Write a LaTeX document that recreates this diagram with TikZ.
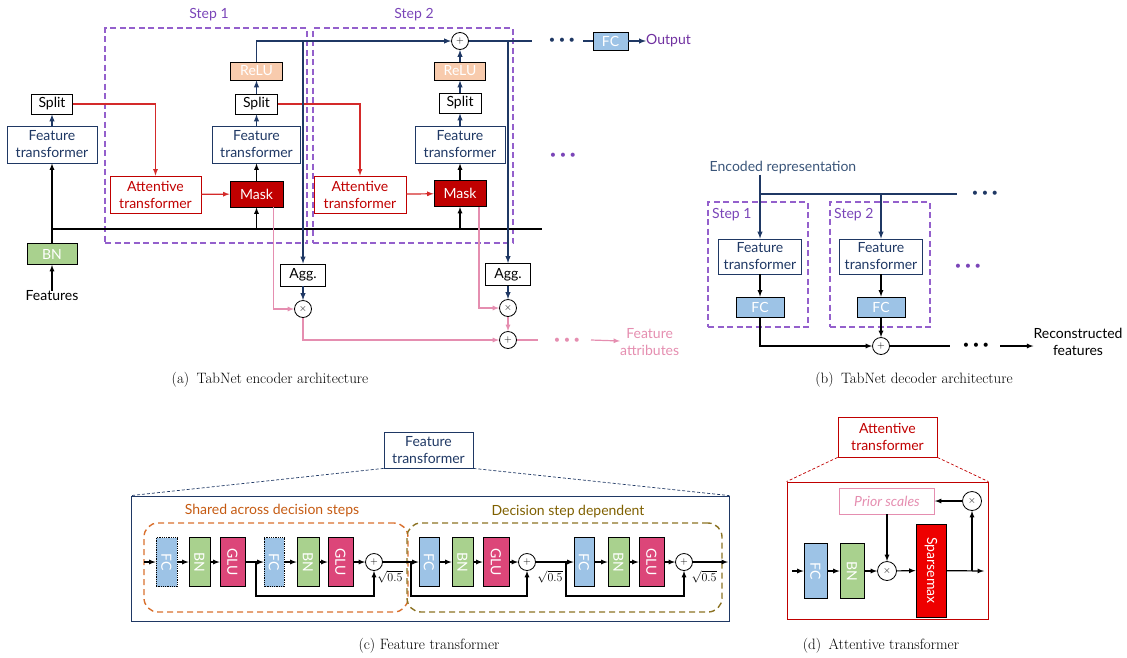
\documentclass[tikz,border=0pt]{standalone}
\usepackage{fontspec}
\newfontfamily\lato{Lato}
\usepackage{amsmath}
\usetikzlibrary{arrows,positioning}
\tikzset{>=latex}

\definecolor{navy}{HTML}{1F3864}
\definecolor{atred}{HTML}{C00000}
\definecolor{lnred}{HTML}{D42A2A}
\definecolor{attpink}{HTML}{E58EB0}
\definecolor{steppurple}{HTML}{9460CC}
\definecolor{steplabel}{HTML}{7A45B8}
\definecolor{relufill}{HTML}{F8CBAD}
\definecolor{bnfill}{HTML}{A9D18E}
\definecolor{fcfill}{HTML}{9DC3E6}
\definecolor{glufill}{HTML}{DC4679}
\definecolor{spmfill}{HTML}{EE0000}
\definecolor{shared}{HTML}{D9702E}
\definecolor{sharedtxt}{HTML}{C55A11}
\definecolor{depend}{HTML}{8C7324}
\definecolor{dependtxt}{HTML}{7F6000}
\definecolor{encblue}{HTML}{3A5579}
\definecolor{outpurple}{HTML}{7030A0}

\newcommand{\tdots}{{\fontsize{11}{11}\selectfont\textbullet\kern3.5pt\textbullet\kern3.5pt\textbullet}}

\begin{document}
\begin{tikzpicture}[x=1pt,y=-1pt]
  \tikzset{>=latex}
  \tikzstyle{every node}=[font=\lato\fontsize{14}{17}\selectfont, inner sep=0pt, align=center]
  \tikzstyle{box}=[draw=black, line width=0.8pt, rectangle]
  \tikzstyle{ftbox}=[box, draw=navy, text=navy]
  \tikzstyle{atbox}=[box, draw=atred, text=atred]
  \tikzstyle{maskbox}=[box, fill=atred, text=white]
  \tikzstyle{relubox}=[box, fill=relufill, text=white]
  \tikzstyle{bnbox}=[box, fill=bnfill, text=white]
  \tikzstyle{fcbox}=[box, fill=fcfill, text=white]
  \tikzstyle{glubox}=[box, fill=glufill, text=white]
  \tikzstyle{opc}=[circle, draw=black, line width=0.8pt, fill=white, minimum size=17, font=\fontsize{10}{10}\selectfont]
  \tikzstyle{stepbox}=[draw=steppurple, line width=1.2pt, dash pattern=on 6pt off 3.5pt]
  \tikzstyle{steptxt}=[text=steplabel]
  \tikzstyle{blk}=[black, line width=1.2pt]
  \tikzstyle{nv}=[navy, line width=1.4pt]
  \tikzstyle{rd}=[lnred, line width=1.2pt]
  \tikzstyle{pk}=[attpink, line width=1.2pt]
  \tikzstyle{zoomnv}=[navy, line width=0.7pt, dash pattern=on 3pt off 2pt]
  \tikzstyle{zoomrd}=[atred, line width=0.7pt, dash pattern=on 3pt off 2pt]
  \tikzstyle{sharedbox}=[draw=shared, line width=1.4pt, dash pattern=on 6pt off 4pt, rounded corners=14]
  \tikzstyle{dependbox}=[draw=depend, line width=1.4pt, dash pattern=on 6pt off 4pt, rounded corners=14]
  \tikzstyle{sqtxt}=[font=\fontsize{12}{14}\selectfont]
  \tikzstyle{captxt}=[font=\rmfamily\fontsize{15}{17}\selectfont]
  \useasboundingbox (0,0) rectangle (1127,657);

  % (a) encoder
  \node[stepbox, minimum width=202, minimum height=215] (st1) at (206,135.5) {};
  \node[stepbox, minimum width=200, minimum height=215] (st2) at (413,135.5) {};
  \node[steptxt] (st1l) at (209,15) {Step 1};
  \node[steptxt] (st2l) at (414,15) {Step 2};

  \node (feat) at (52,296) {Features};
  \node[bnbox, minimum width=50, minimum height=21] (bn) at (52,254) {BN};
  \node[ftbox, minimum width=90, minimum height=37] (ft0) at (52,144.5) {Feature\\transformer};
  \node[box, minimum width=41, minimum height=20] (sp0) at (52,104) {Split};

  \node[atbox, minimum width=91, minimum height=37] (at1) at (155.5,194.5) {Attentive\\transformer};
  \node[maskbox, minimum width=53, minimum height=26] (mk1) at (256.5,194) {Mask};
  \node[ftbox, minimum width=88, minimum height=37] (ft1) at (256.5,144.5) {Feature\\transformer};
  \node[box, minimum width=42, minimum height=20] (sp1) at (256.5,104) {Split};
  \node[relubox, minimum width=52, minimum height=18] (re1) at (256.5,71) {ReLU};

  \node[atbox, minimum width=92, minimum height=37] (at2) at (360,194.5) {Attentive\\transformer};
  \node[maskbox, minimum width=52, minimum height=26] (mk2) at (460,193.5) {Mask};
  \node[ftbox, minimum width=90, minimum height=37] (ft2) at (460,144.5) {Feature\\transformer};
  \node[box, minimum width=42, minimum height=20] (sp2) at (460,103) {Split};
  \node[relubox, minimum width=51, minimum height=18] (re2) at (460,71) {ReLU};
  \node[opc] (add1) at (460,41) {$+$};

  \node[box, minimum width=45, minimum height=22] (agg1) at (303,275) {Agg.};
  \node[box, minimum width=45, minimum height=22] (agg2) at (508,274.5) {Agg.};
  \node[opc] (mul1) at (303,309) {$\times$};
  \node[opc] (mul2) at (508,308) {$\times$};
  \node[opc] (add2) at (508,340) {$+$};

  \node[text=navy] (dots1) at (562,41) {\tdots};
  \node[fcbox, minimum width=35, minimum height=18] (fco) at (610.5,41) {FC};
  \node[anchor=west, text=outpurple] (out) at (646,41) {Output};
  \node[text=steplabel] (dots2) at (563,156) {\tdots};
  \node[text=attpink] (dots3) at (567,341) {\tdots};
  \node[anchor=west, text=attpink] (fa) at (620,342) {Feature\\attributes};

  \coordinate (busL) at (52,229);
  \coordinate (busR) at (542,229);
  \coordinate (nvend) at (532,41);
  \coordinate (fcin) at (583,41);
  \coordinate (pkend) at (538,340);
  \coordinate (pkarr) at (591,340);

  \draw[blk] (busL) -- (busR);
  \draw[blk,->] (feat) -- (bn);
  \draw[blk,->] (bn) -- (ft0);
  \draw[nv,->] (ft0) -- (sp0);
  \draw[rd,->] (sp0) -| (at1);
  \draw[rd,->] (at1) -- (mk1);
  \draw[blk,->] (mk1.south |- busL) -- (mk1);
  \draw[blk,->] (mk1) -- (ft1);
  \draw[nv,->] (ft1) -- (sp1);
  \draw[nv,->] (sp1) -- (re1);
  \draw[rd,->] (sp1) -| (at2);
  \draw[rd,->] (at2) -- (mk2);
  \draw[blk,->] (mk2.south |- busL) -- (mk2);
  \draw[blk,->] (mk2) -- (ft2);
  \draw[nv,->] (ft2) -- (sp2);
  \draw[nv,->] (sp2) -- (re2);
  \draw[nv,->] (re2) -- (add1);
  \draw[nv,->] (re1) |- (add1);
  \draw[nv] (add1) -- (nvend);
  \draw[nv,->] (agg1.north |- add1) -- (agg1);
  \draw[nv,->] (agg2.north |- add1) -- (agg2);
  \draw[nv,->] (agg1) -- (mul1);
  \draw[nv,->] (agg2) -- (mul2);
  \draw[nv] (fcin) -- (fco);
  \draw[nv,->] (fco) -- (out);
  \draw[pk,->] ([xshift=17pt]mk1.south) |- (mul1);
  \draw[pk,->] ([xshift=19pt]mk2.south) |- (mul2);
  \draw[pk,->] (mul1) |- (add2);
  \draw[pk,->] (mul2) -- (add2);
  \draw[pk] (add2) -- (pkend);
  \draw[pk,->] (pkarr) -- (fa);

  % (b) decoder
  \node[text=encblue] (enc) at (783,168) {Encoded representation};
  \node[stepbox, minimum width=100, minimum height=125] (sb1) at (758,264.5) {};
  \node[stepbox, minimum width=100, minimum height=125] (sb2) at (880,264.5) {};
  \node[steptxt, anchor=west] (sb1l) at (712,215) {Step 1};
  \node[steptxt, anchor=west] (sb2l) at (834,215) {Step 2};
  \node[ftbox, minimum width=83, minimum height=35] (ftb1) at (760,256.5) {Feature\\transformer};
  \node[ftbox, minimum width=83, minimum height=35] (ftb2) at (881,256.5) {Feature\\transformer};
  \node[fcbox, minimum width=48, minimum height=20] (fcb1) at (760,307) {FC};
  \node[fcbox, minimum width=48, minimum height=20] (fcb2) at (881,307) {FC};
  \node[opc] (addb) at (881,346) {$+$};
  \node[text=navy] (dots4) at (985,194) {\tdots};
  \node[text=steplabel] (dots5) at (968,267) {\tdots};
  \node (dots6) at (976,346) {\tdots};
  \node (rec) at (1078,341.5) {Reconstructed\\features};

  \coordinate (busB) at (957,194);
  \coordinate (bend) at (950,346);
  \coordinate (barr) at (1000,346);

  \draw[nv,->] (enc.south -| ftb1.north) -- (ftb1);
  \draw[nv] (ftb1.north |- busB) -- (busB);
  \draw[nv,->] (ftb2.north |- busB) -- (ftb2);
  \draw[blk,->] (ftb1) -- (fcb1);
  \draw[blk,->] (ftb2) -- (fcb2);
  \draw[blk,->] (fcb1) |- (addb);
  \draw[blk,->] (fcb2) -- (addb);
  \draw[blk] (addb) -- (bend);
  \draw[blk,->] (barr) -- (rec.west |- barr);

  % (c) feature transformer
  \node[ftbox, minimum width=89, minimum height=36] (ftc) at (428.5,450) {Feature\\transformer};
  \node[box, draw=navy, minimum width=598, minimum height=125] (bigc) at (430,558.5) {};
  \draw[zoomnv] (ftc.south west) -- (bigc.north west);
  \draw[zoomnv] (ftc.south east) -- (bigc.north east);
  \node[text=sharedtxt] (shl) at (272,511) {Shared across decision steps};
  \node[sharedbox, minimum width=264, minimum height=89] (shb) at (276,567.5) {};
  \node[text=dependtxt] (dpl) at (568,512) {Decision step dependent};
  \node[dependbox, minimum width=315, minimum height=89] (dpb) at (564.5,567.5) {};

  \node[fcbox, densely dotted, rotate=-90, minimum width=49, minimum height=21] (c1) at (166.5,562) {FC};
  \node[bnbox, rotate=-90, minimum width=49, minimum height=21] (c2) at (199.5,562) {BN};
  \node[glubox, rotate=-90, minimum width=49, minimum height=25] (c3) at (232.5,562) {GLU};
  \node[fcbox, densely dotted, rotate=-90, minimum width=49, minimum height=20] (c4) at (274,562) {FC};
  \node[bnbox, rotate=-90, minimum width=49, minimum height=22] (c5) at (308,562) {BN};
  \node[glubox, rotate=-90, minimum width=49, minimum height=25] (c6) at (340.5,562) {GLU};
  \node[opc] (p1) at (374,562) {$+$};
  \node[fcbox, rotate=-90, minimum width=49, minimum height=20] (c7) at (429,562) {FC};
  \node[bnbox, rotate=-90, minimum width=49, minimum height=21] (c8) at (462.5,562) {BN};
  \node[glubox, rotate=-90, minimum width=49, minimum height=26] (c9) at (496,562) {GLU};
  \node[opc] (p2) at (527,562) {$+$};
  \node[fcbox, rotate=-90, minimum width=49, minimum height=20] (c10) at (584,562) {FC};
  \node[bnbox, rotate=-90, minimum width=49, minimum height=21] (c11) at (618.5,562) {BN};
  \node[glubox, rotate=-90, minimum width=49, minimum height=25] (c12) at (651.5,562) {GLU};
  \node[opc] (p3) at (684,562) {$+$};
  \node[sqtxt] (r1) at (390,577) {$\sqrt{0.5}$};
  \node[sqtxt] (r2) at (550,577) {$\sqrt{0.5}$};
  \node[sqtxt] (r3) at (704,577) {$\sqrt{0.5}$};

  \coordinate (cin) at (144,562);
  \coordinate (cout) at (728,562);
  \coordinate (k1) at (256,562);
  \coordinate (k2) at (411,562);
  \coordinate (k3) at (566,562);

  \draw[blk,->] (cin) -- (c1);
  \draw[blk,->] (c1) -- (c2);
  \draw[blk,->] (c2) -- (c3);
  \draw[blk,->] (c3) -- (c4);
  \draw[blk,->] (c4) -- (c5);
  \draw[blk,->] (c5) -- (c6);
  \draw[blk,->] (c6) -- (p1);
  \draw[blk,->] (p1) -- (c7);
  \draw[blk,->] (c7) -- (c8);
  \draw[blk,->] (c8) -- (c9);
  \draw[blk,->] (c9) -- (p2);
  \draw[blk,->] (p2) -- (c10);
  \draw[blk,->] (c10) -- (c11);
  \draw[blk,->] (c11) -- (c12);
  \draw[blk,->] (c12) -- (p3);
  \draw[blk,->] (p3) -- (cout);
  \draw[blk,->] (k1) -- ++(0,34) -| (p1);
  \draw[blk,->] (k2) -- ++(0,34) -| (p2);
  \draw[blk,->] (k3) -- ++(0,34) -| (p3);

  % (d) attentive transformer
  \node[atbox, minimum width=99, minimum height=40] (atd) at (887.5,437) {Attentive\\transformer};
  \node[box, draw=atred, minimum width=201, minimum height=137] (bigd) at (887.5,550.5) {};
  \draw[zoomrd] (atd.south west) -- (bigd.north west);
  \draw[zoomrd] (atd.south east) -- (bigd.north east);
  \node[box, draw=attpink, text=attpink, minimum width=95, minimum height=26, font=\lato\itshape\fontsize{14}{17}\selectfont] (prior) at (887,501) {Prior scales};
  \node[opc, minimum size=19] (mt) at (972,501) {$\times$};
  \node[fcbox, rotate=-90, minimum width=55, minimum height=23] (fcd) at (815.5,571) {FC};
  \node[bnbox, rotate=-90, minimum width=55, minimum height=24] (bnd) at (852,571) {BN};
  \node[opc, minimum size=19] (md) at (887,571) {$\times$};
  \node[box, fill=spmfill, text=white, rotate=-90, minimum width=93, minimum height=30] (spm) at (931,570.5) {Sparsemax};

  \coordinate (din) at (792,571);
  \coordinate (dout) at (984,571);

  \draw[blk,->] (din) -- (fcd);
  \draw[blk,->] (fcd) -- (bnd);
  \draw[blk,->] (bnd) -- (md);
  \draw[blk,->] (md) -- (spm);
  \draw[blk,->] (spm) -- (dout);
  \draw[blk,->] (mt.south |- dout) -- (mt);
  \draw[blk,->] (mt) -- (prior);
  \draw[blk,->] (prior) -- (md);

  % captions
  \node[captxt] (capa) at (270,380) {(a)\enspace TabNet encoder architecture};
  \node[captxt] (capb) at (914,380) {(b)\enspace TabNet decoder architecture};
  \node[captxt] (capc) at (429,646) {(c) Feature transformer};
  \node[captxt] (capd) at (881,646) {(d)\enspace Attentive transformer};
\end{tikzpicture}
\end{document}
